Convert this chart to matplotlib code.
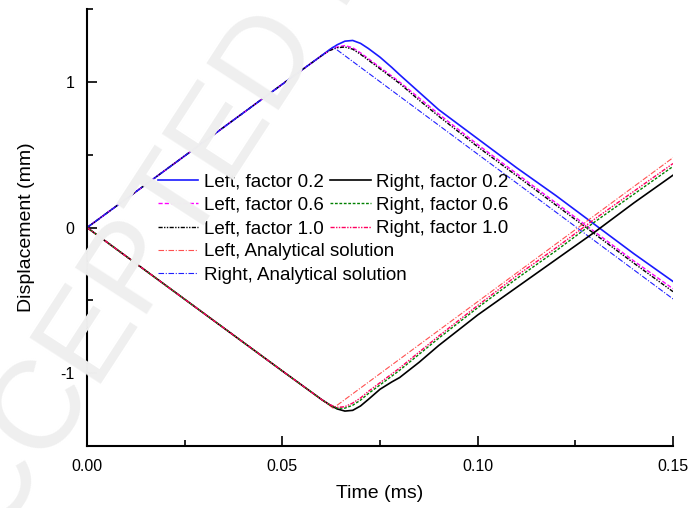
import numpy as np
import matplotlib
matplotlib.use("Agg")
import matplotlib.pyplot as plt
from matplotlib.ticker import MultipleLocator

plt.rcParams['font.family'] = ['Liberation Sans', 'DejaVu Sans']

# time samples (ms)
t = [0.0, 0.01, 0.02, 0.03, 0.04, 0.05, 0.06, 0.062, 0.064, 0.066, 0.068,
     0.07, 0.072, 0.075, 0.078, 0.08, 0.085, 0.09, 0.10, 0.11, 0.12, 0.13,
     0.14, 0.15]

# left side displacement (mm)
left_f02 = [0.0, 0.197, 0.394, 0.591, 0.788, 0.985, 1.18, 1.22, 1.255, 1.28,
            1.285, 1.265, 1.23, 1.17, 1.10, 1.05, 0.93, 0.81, 0.61, 0.41,
            0.22, 0.02, -0.18, -0.37]
left_f06 = [0.0, 0.197, 0.394, 0.591, 0.788, 0.985, 1.18, 1.215, 1.24, 1.25,
            1.235, 1.20, 1.16, 1.10, 1.04, 1.00, 0.89, 0.78, 0.57, 0.37,
            0.17, -0.03, -0.23, -0.42]
left_f10 = [0.0, 0.197, 0.394, 0.591, 0.788, 0.985, 1.18, 1.215, 1.235, 1.24,
            1.225, 1.19, 1.15, 1.09, 1.03, 0.99, 0.875, 0.765, 0.555, 0.355,
            0.155, -0.045, -0.245, -0.44]

# right side displacement (mm)
right_f02 = [0.0, -0.197, -0.394, -0.591, -0.788, -0.985, -1.18, -1.215,
             -1.245, -1.26, -1.255, -1.225, -1.18, -1.11, -1.06, -1.03,
             -0.925, -0.81, -0.60, -0.41, -0.22, -0.03, 0.17, 0.36]
right_f06 = [0.0, -0.197, -0.394, -0.591, -0.788, -0.985, -1.18, -1.215,
             -1.24, -1.24, -1.22, -1.185, -1.14, -1.08, -1.02, -0.98,
             -0.87, -0.76, -0.55, -0.35, -0.16, 0.04, 0.23, 0.42]
right_f10 = [0.0, -0.197, -0.394, -0.591, -0.788, -0.985, -1.18, -1.215,
             -1.235, -1.23, -1.205, -1.17, -1.125, -1.065, -1.005, -0.965,
             -0.855, -0.745, -0.535, -0.33, -0.14, 0.06, 0.25, 0.44]

# analytical solutions (piecewise linear)
t_exact = [0.0, 0.063, 0.15]
left_exact = [0.0, -1.24, 0.48]
right_exact = [0.0, 1.24, -0.49]

xticks = [0.0, 0.05, 0.10, 0.15]
xtick_labels = ['0.00', '0.05', '0.10', '0.15']
yticks = [-1, 0, 1]
ytick_labels = ['-1', '0', '1']

fig = plt.figure(figsize=(6.91, 5.08), dpi=100)
ax = fig.add_axes([0.126, 0.122, 0.848, 0.860])

h1, = ax.plot(t, left_f02, color='#1a1aff', lw=1.2, label='Left, factor 0.2')
h2, = ax.plot(t, left_f06, color='#ff00ff', lw=1.0, ls=(0, (3, 1.5)),
              label='Left, factor 0.6')
h3, = ax.plot(t, left_f10, color='black', lw=1.0,
              ls=(0, (3, 1, 1, 1, 1, 1)), label='Left, factor 1.0')
h4, = ax.plot(t_exact, left_exact, color='#ff5050', lw=0.8,
              ls=(0, (5, 1.5, 1, 1.5)), label='Left, Analytical solution')
h5, = ax.plot(t_exact, right_exact, color='#2020ff', lw=0.8,
              ls=(0, (5, 1.5, 1, 1.5)), label='Right, Analytical solution')
h6, = ax.plot(t, right_f02, color='black', lw=1.2, label='Right, factor 0.2')
h7, = ax.plot(t, right_f06, color='#008000', lw=1.0, ls=(0, (2, 1.2)),
              label='Right, factor 0.6')
h8, = ax.plot(t, right_f10, color='#ff0060', lw=1.0,
              ls=(0, (3, 1, 1, 1, 1, 1)), label='Right, factor 1.0')

ax.set_xlim(0, 0.15)
ax.set_ylim(-1.5, 1.5)
ax.set_xticks(xticks)
ax.set_xticklabels(xtick_labels)
ax.set_yticks(yticks)
ax.set_yticklabels(ytick_labels)
ax.xaxis.set_minor_locator(MultipleLocator(0.025))
ax.yaxis.set_minor_locator(MultipleLocator(0.5))
ax.tick_params(which='both', direction='in', labelsize=11.5, width=1.2)
ax.tick_params(which='major', length=7, pad=9)
ax.tick_params(which='minor', length=4)
for side in ['top', 'right']:
    ax.spines[side].set_visible(False)
for side in ['left', 'bottom']:
    ax.spines[side].set_linewidth(1.5)

ax.set_xlabel('Time (ms)', fontsize=14, labelpad=8)
ax.set_ylabel('Displacement (mm)', fontsize=14, labelpad=18)

leg_kw = dict(frameon=False, fontsize=13.5, loc='upper left', borderpad=0,
              borderaxespad=0, handlelength=2.15, handletextpad=0.3,
              labelspacing=0.33)
leg1 = ax.legend(handles=[h1, h2, h3, h4, h5],
                 bbox_to_anchor=(0.121, 0.624), **leg_kw)
ax.add_artist(leg1)
ax.legend(handles=[h6, h7, h8], bbox_to_anchor=(0.415, 0.624), **leg_kw)

# diagonal watermark over the plot
fig.text(0.50, 1.10, 'ACCEPTED MANUSCRIPT', fontsize=90, color='#efefef',
         rotation=57, ha='center', va='center', rotation_mode='anchor',
         zorder=10)

fig.savefig('out.png', dpi=100)
